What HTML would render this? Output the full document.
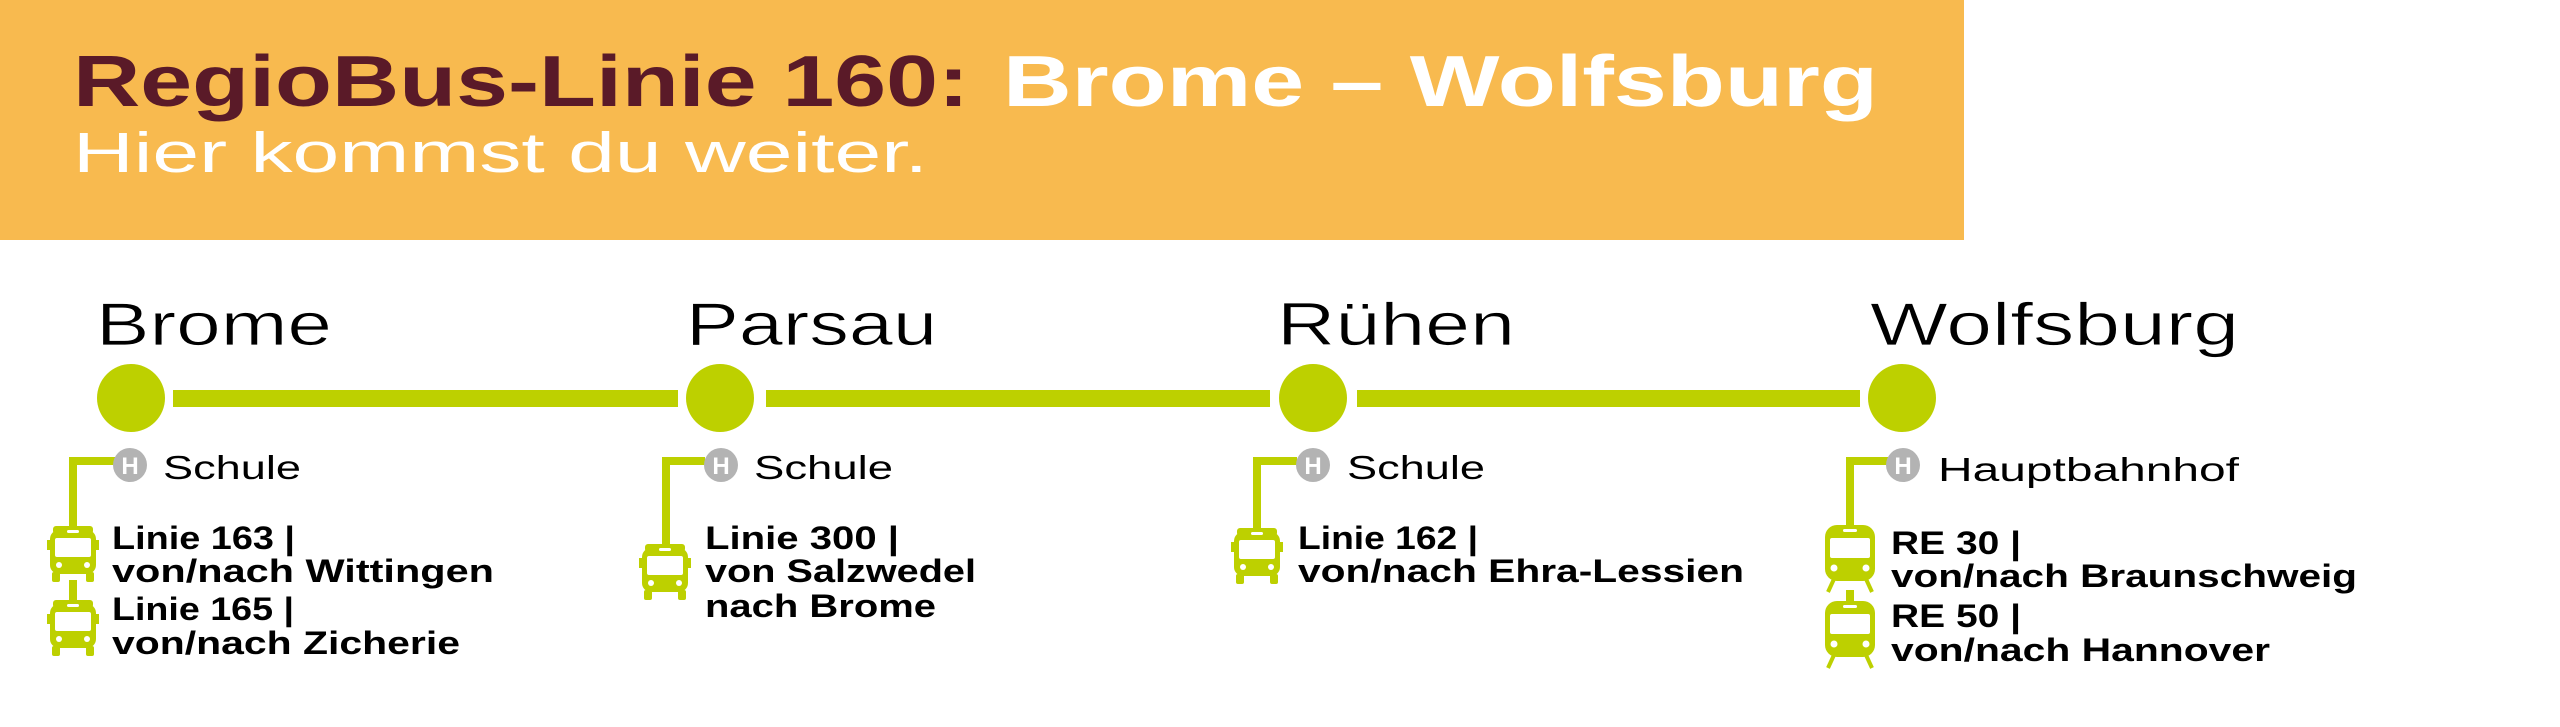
<!DOCTYPE html>
<html><head><meta charset="utf-8"><style>
html,body{margin:0;padding:0;background:#fff;}
svg{display:block;}
text{font-family:"Liberation Sans",sans-serif;}
</style></head><body>
<svg width="2560" height="727" viewBox="0 0 2560 727" xmlns="http://www.w3.org/2000/svg">
<defs>
<g id="bus">
  <rect x="6" y="2" width="40" height="8" rx="3" fill="#bdd000"/>
  <rect x="3" y="6" width="46" height="44" rx="9" fill="#bdd000"/>
  <rect x="0" y="16" width="4" height="10" fill="#bdd000"/>
  <rect x="48" y="16" width="4" height="10" fill="#bdd000"/>
  <rect x="20" y="6" width="12" height="3" rx="1.5" fill="#fff"/>
  <rect x="8" y="14" width="36" height="19" rx="2" fill="#fff"/>
  <circle cx="12" cy="41" r="3" fill="#fff"/>
  <circle cx="40" cy="41" r="3" fill="#fff"/>
  <rect x="5" y="48" width="8" height="10" rx="2" fill="#bdd000"/>
  <rect x="39" y="48" width="8" height="10" rx="2" fill="#bdd000"/>
</g>
<g id="train">
  <rect x="1" y="0" width="50" height="56" rx="12" fill="#bdd000"/>
  <rect x="19" y="4" width="14" height="3" rx="1.5" fill="#fff"/>
  <rect x="6" y="13" width="40" height="20" rx="2" fill="#fff"/>
  <circle cx="10" cy="43" r="3.5" fill="#fff"/>
  <circle cx="42" cy="43" r="3.5" fill="#fff"/>
  <path d="M10 54 L4 67 M42 54 L48 67" stroke="#bdd000" stroke-width="4"/>
</g>
</defs>
<rect x="0" y="0" width="1964" height="240" fill="#f8ba4f"/>
<text x="73" y="106" font-size="72" font-weight="bold" fill="#5a1a28" textLength="896" lengthAdjust="spacingAndGlyphs">RegioBus-Linie 160:</text>
<text x="1003" y="106" font-size="72" font-weight="bold" fill="#fff" textLength="875" lengthAdjust="spacingAndGlyphs">Brome – Wolfsburg</text>
<text x="73" y="172" font-size="57" fill="#fff" textLength="855" lengthAdjust="spacingAndGlyphs">Hier kommst du weiter.</text>

<g font-size="60" fill="#000" stroke="#fff" stroke-width="0.8">
<text x="96" y="345" textLength="236" lengthAdjust="spacingAndGlyphs">Brome</text>
<text x="686" y="345" textLength="251" lengthAdjust="spacingAndGlyphs">Parsau</text>
<text x="1277" y="345" textLength="238" lengthAdjust="spacingAndGlyphs">Rühen</text>
<text x="1870" y="345" textLength="369" lengthAdjust="spacingAndGlyphs">Wolfsburg</text>
</g>

<g fill="#bdd000">
<rect x="173" y="390" width="505" height="17"/>
<rect x="766" y="390" width="504" height="17"/>
<rect x="1357" y="390" width="503" height="17"/>
<circle cx="131" cy="398" r="34"/>
<circle cx="720" cy="398" r="34"/>
<circle cx="1313" cy="398" r="34"/>
<circle cx="1902" cy="398" r="34"/>
</g>

<g fill="none" stroke="#bdd000" stroke-width="8">
<path d="M73 528 V461 H115"/>
<path d="M73 580 V600"/>
<path d="M666 544 V461 H705"/>
<path d="M1257 528 V461 H1297"/>
<path d="M1850 528 V461 H1888"/>
<path d="M1850 590 V604"/>
</g>

<g>
<circle cx="130" cy="465" r="17" fill="#b3b3b3"/>
<circle cx="721" cy="465" r="17" fill="#b3b3b3"/>
<circle cx="1313" cy="465" r="17" fill="#b3b3b3"/>
<circle cx="1903" cy="465" r="17" fill="#b3b3b3"/>
<g font-size="24" font-weight="bold" fill="#fff" text-anchor="middle">
<text x="130" y="474">H</text><text x="721" y="474">H</text><text x="1313" y="474">H</text><text x="1903" y="474">H</text>
</g>
</g>

<g font-size="33" fill="#000">
<text x="163" y="479" textLength="138" lengthAdjust="spacingAndGlyphs">Schule</text>
<text x="754" y="479" textLength="139" lengthAdjust="spacingAndGlyphs">Schule</text>
<text x="1347" y="479" textLength="138" lengthAdjust="spacingAndGlyphs">Schule</text>
<text x="1938" y="481" textLength="301" lengthAdjust="spacingAndGlyphs">Hauptbahnhof</text>
</g>

<use href="#bus" x="47" y="524"/>
<use href="#bus" x="47" y="598"/>
<use href="#bus" x="639" y="542"/>
<use href="#bus" x="1231" y="526"/>
<use href="#train" x="1824" y="525"/>
<use href="#train" x="1824" y="601"/>

<g font-size="32" font-weight="bold" fill="#000">
<text x="112" y="549" textLength="183" lengthAdjust="spacingAndGlyphs">Linie 163 |</text>
<text x="112" y="582" textLength="382" lengthAdjust="spacingAndGlyphs">von/nach Wittingen</text>
<text x="112" y="620" textLength="182" lengthAdjust="spacingAndGlyphs">Linie 165 |</text>
<text x="112" y="654" textLength="348" lengthAdjust="spacingAndGlyphs">von/nach Zicherie</text>
<text x="705" y="549" textLength="194" lengthAdjust="spacingAndGlyphs">Linie 300 |</text>
<text x="705" y="582" textLength="271" lengthAdjust="spacingAndGlyphs">von Salzwedel</text>
<text x="705" y="617" textLength="231" lengthAdjust="spacingAndGlyphs">nach Brome</text>
<text x="1298" y="549" textLength="180" lengthAdjust="spacingAndGlyphs">Linie 162 |</text>
<text x="1298" y="582" textLength="446" lengthAdjust="spacingAndGlyphs">von/nach Ehra-Lessien</text>
<text x="1891" y="554" textLength="130" lengthAdjust="spacingAndGlyphs">RE 30 |</text>
<text x="1891" y="587" textLength="466" lengthAdjust="spacingAndGlyphs">von/nach Braunschweig</text>
<text x="1891" y="627" textLength="130" lengthAdjust="spacingAndGlyphs">RE 50 |</text>
<text x="1891" y="661" textLength="379" lengthAdjust="spacingAndGlyphs">von/nach Hannover</text>
</g>
</svg>
</body></html>
